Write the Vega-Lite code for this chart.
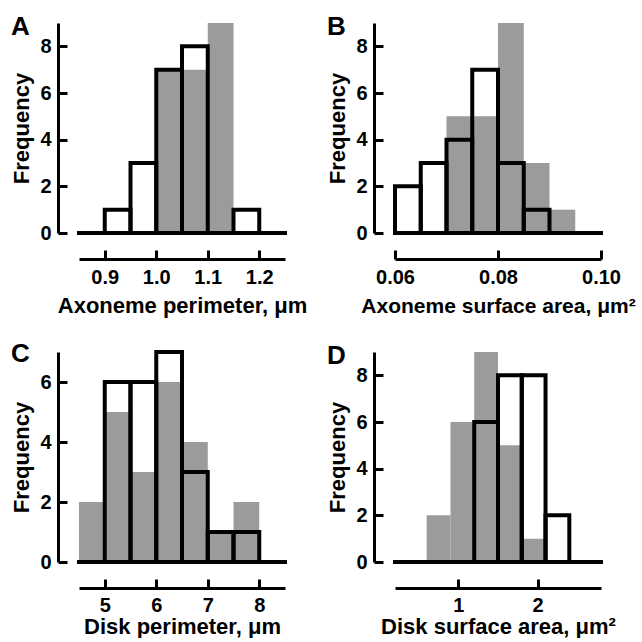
{
  "$schema": "https://vega.github.io/schema/vega-lite/v6.json",
  "background": "white",
  "padding": {"left": 10, "top": 13, "right": 0, "bottom": 0},
  "bounds": "flush",
  "columns": 2,
  "spacing": {"row": 119, "column": 110},
  "datasets": {
    "hist": [
      {"p": "A", "s": "g", "x0": 1.00, "x1": 1.05, "n": 7},
      {"p": "A", "s": "g", "x0": 1.05, "x1": 1.10, "n": 7},
      {"p": "A", "s": "g", "x0": 1.10, "x1": 1.15, "n": 9},
      {"p": "A", "s": "o", "x0": 0.90, "x1": 0.95, "n": 1},
      {"p": "A", "s": "o", "x0": 0.95, "x1": 1.00, "n": 3},
      {"p": "A", "s": "o", "x0": 1.00, "x1": 1.05, "n": 7},
      {"p": "A", "s": "o", "x0": 1.05, "x1": 1.10, "n": 8},
      {"p": "A", "s": "o", "x0": 1.15, "x1": 1.20, "n": 1},
      {"p": "B", "s": "g", "x0": 0.070, "x1": 0.075, "n": 5},
      {"p": "B", "s": "g", "x0": 0.075, "x1": 0.080, "n": 5},
      {"p": "B", "s": "g", "x0": 0.080, "x1": 0.085, "n": 9},
      {"p": "B", "s": "g", "x0": 0.085, "x1": 0.090, "n": 3},
      {"p": "B", "s": "g", "x0": 0.090, "x1": 0.095, "n": 1},
      {"p": "B", "s": "o", "x0": 0.060, "x1": 0.065, "n": 2},
      {"p": "B", "s": "o", "x0": 0.065, "x1": 0.070, "n": 3},
      {"p": "B", "s": "o", "x0": 0.070, "x1": 0.075, "n": 4},
      {"p": "B", "s": "o", "x0": 0.075, "x1": 0.080, "n": 7},
      {"p": "B", "s": "o", "x0": 0.080, "x1": 0.085, "n": 3},
      {"p": "B", "s": "o", "x0": 0.085, "x1": 0.090, "n": 1},
      {"p": "C", "s": "g", "x0": 4.5, "x1": 5.0, "n": 2},
      {"p": "C", "s": "g", "x0": 5.0, "x1": 5.5, "n": 5},
      {"p": "C", "s": "g", "x0": 5.5, "x1": 6.0, "n": 3},
      {"p": "C", "s": "g", "x0": 6.0, "x1": 6.5, "n": 6},
      {"p": "C", "s": "g", "x0": 6.5, "x1": 7.0, "n": 4},
      {"p": "C", "s": "g", "x0": 7.0, "x1": 7.5, "n": 1},
      {"p": "C", "s": "g", "x0": 7.5, "x1": 8.0, "n": 2},
      {"p": "C", "s": "o", "x0": 5.0, "x1": 5.5, "n": 6},
      {"p": "C", "s": "o", "x0": 5.5, "x1": 6.0, "n": 6},
      {"p": "C", "s": "o", "x0": 6.0, "x1": 6.5, "n": 7},
      {"p": "C", "s": "o", "x0": 6.5, "x1": 7.0, "n": 3},
      {"p": "C", "s": "o", "x0": 7.0, "x1": 7.5, "n": 1},
      {"p": "C", "s": "o", "x0": 7.5, "x1": 8.0, "n": 1},
      {"p": "D", "s": "g", "x0": 0.6, "x1": 0.9, "n": 2},
      {"p": "D", "s": "g", "x0": 0.9, "x1": 1.2, "n": 6},
      {"p": "D", "s": "g", "x0": 1.2, "x1": 1.5, "n": 9},
      {"p": "D", "s": "g", "x0": 1.5, "x1": 1.8, "n": 5},
      {"p": "D", "s": "g", "x0": 1.8, "x1": 2.1, "n": 1},
      {"p": "D", "s": "o", "x0": 1.2, "x1": 1.5, "n": 6},
      {"p": "D", "s": "o", "x0": 1.5, "x1": 1.8, "n": 8},
      {"p": "D", "s": "o", "x0": 1.8, "x1": 2.1, "n": 8},
      {"p": "D", "s": "o", "x0": 2.1, "x1": 2.4, "n": 2}
    ]
  },
  "data": {"name": "hist"},
  "concat": [
    {
      "title": {"text": "A"},
      "width": 206, "height": 210,
      "transform": [{"filter": "datum.p == 'A'"}],
      "layer": [
        {
          "transform": [{"filter": "datum.s == 'g'"}],
          "mark": {"type": "rect", "fill": "#9b9b9b"},
          "encoding": {
            "x": {"field": "x0", "type": "quantitative", "scale": {"domain": [0.85, 1.25]},
                  "axis": {"values": [0.9, 1.0, 1.1, 1.2], "format": ".1f", "title": "Axoneme perimeter, μm", "titlePadding": 8}},
            "x2": {"field": "x1"},
            "y": {"field": "n", "type": "quantitative", "scale": {"domain": [0, 9]},
                  "axis": {"values": [0, 2, 4, 6, 8], "title": "Frequency"}},
            "y2": {"datum": 0}
          }
        },
        {
          "transform": [{"filter": "datum.s == 'o'"}],
          "mark": {"type": "rect", "fill": "transparent", "stroke": "black", "strokeWidth": 4},
          "encoding": {
            "x": {"field": "x0", "type": "quantitative"},
            "x2": {"field": "x1"},
            "y": {"field": "n", "type": "quantitative"},
            "y2": {"datum": 0}
          }
        },
        {
          "data": {"values": [{"z": 0}]},
          "mark": {"type": "rule", "color": "black", "strokeWidth": 4, "strokeCap": "square"},
          "encoding": {"y": {"datum": 0}}
        }
      ]
    },
    {
      "title": {"text": "B"},
      "width": 206, "height": 210,
      "transform": [{"filter": "datum.p == 'B'"}],
      "layer": [
        {
          "transform": [{"filter": "datum.s == 'g'"}],
          "mark": {"type": "rect", "fill": "#9b9b9b"},
          "encoding": {
            "x": {"field": "x0", "type": "quantitative", "scale": {"domain": [0.06, 0.10]},
                  "axis": {"values": [0.06, 0.08, 0.10], "format": ".2f", "title": "Axoneme surface area, μm²", "titlePadding": 8, "titleFontSize": 21}},
            "x2": {"field": "x1"},
            "y": {"field": "n", "type": "quantitative", "scale": {"domain": [0, 9]},
                  "axis": {"values": [0, 2, 4, 6, 8], "title": "Frequency"}},
            "y2": {"datum": 0}
          }
        },
        {
          "transform": [{"filter": "datum.s == 'o'"}],
          "mark": {"type": "rect", "fill": "transparent", "stroke": "black", "strokeWidth": 4},
          "encoding": {
            "x": {"field": "x0", "type": "quantitative"},
            "x2": {"field": "x1"},
            "y": {"field": "n", "type": "quantitative"},
            "y2": {"datum": 0}
          }
        },
        {
          "data": {"values": [{"z": 0}]},
          "mark": {"type": "rule", "color": "black", "strokeWidth": 4, "strokeCap": "square"},
          "encoding": {"y": {"datum": 0}}
        }
      ]
    },
    {
      "title": {"text": "C"},
      "width": 206, "height": 210,
      "transform": [{"filter": "datum.p == 'C'"}],
      "layer": [
        {
          "transform": [{"filter": "datum.s == 'g'"}],
          "mark": {"type": "rect", "fill": "#9b9b9b"},
          "encoding": {
            "x": {"field": "x0", "type": "quantitative", "scale": {"domain": [4.5, 8.5]},
                  "axis": {"values": [5, 6, 7, 8], "format": "d", "title": "Disk perimeter, μm", "labelPadding": 16.5, "titlePadding": 1}},
            "x2": {"field": "x1"},
            "y": {"field": "n", "type": "quantitative", "scale": {"domain": [0, 7]},
                  "axis": {"values": [0, 1, 2, 3, 4, 5, 6, 7], "labelExpr": "datum.value % 2 == 0 ? datum.label : ''", "title": "Frequency"}},
            "y2": {"datum": 0}
          }
        },
        {
          "transform": [{"filter": "datum.s == 'o'"}],
          "mark": {"type": "rect", "fill": "transparent", "stroke": "black", "strokeWidth": 4},
          "encoding": {
            "x": {"field": "x0", "type": "quantitative"},
            "x2": {"field": "x1"},
            "y": {"field": "n", "type": "quantitative"},
            "y2": {"datum": 0}
          }
        },
        {
          "data": {"values": [{"z": 0}]},
          "mark": {"type": "rule", "color": "black", "strokeWidth": 4, "strokeCap": "square"},
          "encoding": {"y": {"datum": 0}}
        }
      ]
    },
    {
      "title": {"text": "D"},
      "width": 206, "height": 210,
      "transform": [{"filter": "datum.p == 'D'"}],
      "layer": [
        {
          "transform": [{"filter": "datum.s == 'g'"}],
          "mark": {"type": "rect", "fill": "#9b9b9b"},
          "encoding": {
            "x": {"field": "x0", "type": "quantitative", "scale": {"domain": [0.29, 2.69]},
                  "axis": {"values": [1, 2], "format": "d", "title": "Disk surface area, μm²", "labelPadding": 16.5, "titlePadding": 1}},
            "x2": {"field": "x1"},
            "y": {"field": "n", "type": "quantitative", "scale": {"domain": [0, 9]},
                  "axis": {"values": [0, 2, 4, 6, 8], "title": "Frequency"}},
            "y2": {"datum": 0}
          }
        },
        {
          "transform": [{"filter": "datum.s == 'o'"}],
          "mark": {"type": "rect", "fill": "transparent", "stroke": "black", "strokeWidth": 4},
          "encoding": {
            "x": {"field": "x0", "type": "quantitative"},
            "x2": {"field": "x1"},
            "y": {"field": "n", "type": "quantitative"},
            "y2": {"datum": 0}
          }
        },
        {
          "data": {"values": [{"z": 0}]},
          "mark": {"type": "rule", "color": "black", "strokeWidth": 4, "strokeCap": "square"},
          "encoding": {"y": {"datum": 0}}
        }
      ]
    }
  ],
  "config": {
    "font": "Liberation Sans",
    "view": {"stroke": null},
    "title": {"anchor": "start", "frame": "group", "dx": -68, "dy": 20.5, "offset": 0, "baseline": "alphabetic", "fontSize": 26, "fontWeight": "bold", "color": "black", "font": "Liberation Sans"},
    "axis": {
      "grid": false,
      "domainColor": "black",
      "domainWidth": 3,
      "tickColor": "black",
      "tickWidth": 3,
      "tickSize": -9,
      "labelFont": "Liberation Sans",
      "labelFontSize": 20,
      "labelFontWeight": "bold",
      "labelColor": "black",
      "labelFlush": false,
      "labelOverlap": false,
      "titleFont": "Liberation Sans",
      "titleFontSize": 22,
      "titleFontWeight": "bold",
      "titleColor": "black"
    },
    "axisX": {"offset": 26, "labelPadding": 17.5},
    "axisY": {"offset": 21, "labelPadding": 16, "titlePadding": 6}
  }
}
